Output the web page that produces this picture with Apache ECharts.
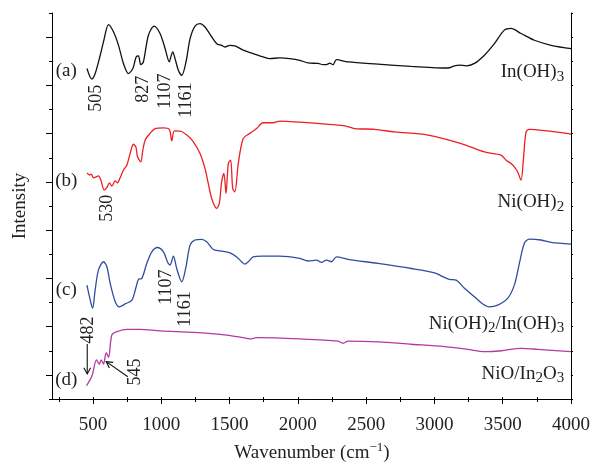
<!DOCTYPE html>
<html><head><meta charset="utf-8">
<script src="https://cdn.jsdelivr.net/npm/echarts@6/dist/echarts.min.js"></script>
<style>html,body{margin:0;padding:0;background:#fff}#c{width:593px;height:465px}</style>
</head><body><div id="c"></div>
<script>
// (a) In(OH)3
const waveA = [456,492,516,553,577,614,650,687,723,760,792,816,833,850,869,906,948,991,1028,1059,1070,1084,1101,1125,1150,1181,1211,1247,1284,1320,1369,1406,1442,1466,1503,1539,1600,1673,1746,1795,1868,1941,2014,2075,2148,2185,2209,2234,2258,2283,2367,2586,2831,3098,3147,3183,3232,3293,3366,3439,3512,3561,3634,3732,3854,3987,4000];
const intA = [13.70,13.26,13.49,14.25,14.80,15.52,15.22,14.66,13.91,13.49,13.70,14.18,14.22,13.86,13.97,15.08,15.46,15.15,14.53,13.97,14.18,14.39,14.11,13.63,13.42,13.97,14.94,15.46,15.56,15.42,15.01,14.73,14.66,14.59,14.66,14.64,14.46,14.32,14.18,14.11,14.14,14.11,14.04,13.93,13.91,13.86,13.86,13.92,13.86,14.07,13.97,13.88,13.79,13.72,13.81,13.84,13.81,13.91,14.25,14.73,15.29,15.36,15.15,14.87,14.66,14.53,14.52];
// (b) Ni(OH)2
const waveB = [456,475,487,504,524,540,558,582,602,621,638,663,679,699,723,748,772,796,814,826,850,865,882,918,955,1016,1059,1077,1096,1138,1187,1235,1284,1320,1344,1369,1406,1425,1442,1459,1474,1491,1508,1523,1539,1564,1600,1649,1698,1746,1819,1868,1978,2343,2416,2562,2708,2952,3196,3366,3488,3525,3561,3585,3609,3634,3651,3671,3695,3829,4000];
const intB = [9.37,9.28,9.32,9.17,9.21,9.25,9.07,8.66,8.77,8.96,8.82,9.04,8.96,9.17,9.49,9.69,10.18,10.56,10.45,10.04,9.83,10.31,10.73,11.01,11.21,11.24,11.17,10.70,11.11,11.10,10.94,10.66,10.18,9.56,8.94,8.31,7.90,8.11,9.00,9.35,8.52,9.76,9.90,8.73,8.59,9.76,10.80,11.01,11.21,11.45,11.45,11.52,11.49,11.32,11.21,11.18,11.07,10.94,10.59,10.24,10.11,9.90,9.76,9.62,9.42,9.07,9.90,11.07,11.18,11.11,10.98];
// (c) Ni(OH)2/In(OH)3
const waveC = [456,480,497,516,540,577,602,626,663,692,736,785,816,833,858,894,931,972,1016,1045,1064,1089,1113,1150,1181,1211,1247,1296,1333,1381,1430,1503,1552,1588,1612,1637,1673,1735,1868,2014,2075,2136,2173,2209,2246,2283,2367,2586,2831,3001,3061,3110,3159,3220,3293,3354,3403,3463,3536,3585,3622,3658,3695,3780,3854,4000];
const intC = [4.72,4.10,3.76,4.52,5.34,5.69,5.48,4.79,4.03,3.82,3.94,4.10,4.65,4.96,5.00,5.62,6.10,6.28,6.10,5.69,5.55,5.92,5.41,4.86,5.48,6.38,6.59,6.62,6.52,6.20,6.14,6.06,5.89,5.69,5.59,5.69,5.89,5.92,5.92,5.83,5.72,5.76,5.66,5.76,5.69,5.89,5.79,5.62,5.41,5.23,5.07,4.96,4.93,4.59,4.24,3.94,3.82,3.89,4.17,4.72,5.62,6.45,6.63,6.59,6.49,6.42];
// (d) NiO/In2O3
const waveD = [453,492,526,546,560,577,597,614,638,675,748,845,991,1235,1479,1600,1649,1698,2014,2294,2331,2367,2586,2831,3074,3244,3366,3488,3634,3756,4000];
const intD = [0.55,0.95,1.62,1.44,1.62,1.45,1.92,1.73,2.65,2.79,2.89,2.89,2.82,2.76,2.65,2.54,2.49,2.54,2.49,2.40,2.31,2.40,2.37,2.27,2.17,2.06,1.96,2.00,2.10,2.06,1.96];

const xMajorTicks = [500,1000,1500,2000,2500,3000,3500,4000];
const xMinorTicks = [250,750,1250,1750,2250,2750,3250,3750];
const xTopTicks = [250,500,750,1000,1250,1500,1750,2000,2250,2500,2750,3000,3250,3500,3750,4000];
const yMajorTicks = [1,3,5,7,9,11,13,15];
const yMinorTicks = [0,2,4,6,8,10,12,14,16];
const yRightTicks = [0,1,2,3,4,5,6,7,8,9,10,11,12,13,14,15,16];

const seriesNames = ['In(OH){s|3}','Ni(OH){s|2}','Ni(OH){s|2}/In(OH){s|3}','NiO/In{s|2}O{s|3}'];
const seriesNamePos = [[3950,13.63],[3950,8.24],[3950,3.19],[3950,1.12]];
const curveTags = ['(a)','(b)','(c)','(d)'];
const curveTagPos = [[305,13.59],[305,9.03],[305,4.52],[305,0.79]];
const peakTexts = ['505','827','1107','1161','530','1107','1161','482','545'];
const peakPos = [[524,12.47],[871,12.84],[1028,12.76],[1185,12.39],[608,7.91],[1037,4.64],[1179,3.73],[462,2.86],[810,1.12]];
const arrowFrom = [[458,2.28],[755,0.92]];
const arrowTo = [[458,1.04],[597,1.55]];

const colors = ['#111111','#ec1f24','#2f4d9e','#b23aa0'];
const FONT = "'Liberation Serif','DejaVu Serif',serif";
const TXT = '#222';

const zip = (a,b) => a.map((x,i)=>[x,b[i]]);
const chart = echarts.init(document.getElementById('c'), null, {renderer:'canvas'});

const baseAxis = {type:'value', min:200, max:4000, splitLine:{show:false}};
const baseY = {type:'value', min:0, max:16, splitLine:{show:false}, axisLabel:{show:false}};
const lineC = {color:'#000', width:1};

chart.setOption({
  animation:false,
  backgroundColor:'#fff',
  grid:{left:52, right:21, top:13, bottom:66, containLabel:false},
  xAxis:[
    Object.assign({}, baseAxis, {position:'bottom', axisLine:{show:true, lineStyle:lineC},
      axisTick:{show:true, inside:false, length:5, customValues:xMajorTicks, lineStyle:lineC},
      axisLabel:{show:true, customValues:xMajorTicks, formatter:(v)=>String(v), fontFamily:FONT, fontSize:19, color:TXT, margin:17}}),
    Object.assign({}, baseAxis, {position:'bottom', axisLine:{show:false},
      axisTick:{show:true, inside:false, length:3, customValues:xMinorTicks, lineStyle:lineC},
      axisLabel:{show:false}}),
    Object.assign({}, baseAxis, {position:'top', axisLine:{show:true, lineStyle:lineC},
      axisTick:{show:true, inside:false, length:2, customValues:xTopTicks, lineStyle:lineC},
      axisLabel:{show:false}})
  ],
  yAxis:[
    Object.assign({}, baseY, {position:'left', axisLine:{show:true, lineStyle:lineC},
      axisTick:{show:true, inside:false, length:3, customValues:yMinorTicks, lineStyle:lineC}}),
    Object.assign({}, baseY, {position:'left', axisLine:{show:false},
      axisTick:{show:true, inside:false, length:6, customValues:yMajorTicks, lineStyle:lineC}}),
    Object.assign({}, baseY, {position:'right', axisLine:{show:true, lineStyle:lineC},
      axisTick:{show:true, inside:false, length:2, customValues:yRightTicks, lineStyle:lineC}})
  ],
  series:[
    {type:'line', data:zip(waveA,intA), color:colors[0]},
    {type:'line', data:zip(waveB,intB), color:colors[1]},
    {type:'line', data:zip(waveC,intC), color:colors[2]},
    {type:'line', data:zip(waveD,intD), color:colors[3]}
  ].map(s=>Object.assign(s,{xAxisIndex:0,yAxisIndex:0,showSymbol:false,smooth:0.3,silent:true,
      lineStyle:{width:1.3,color:s.color}}))
});

const P = (p) => chart.convertToPixel({xAxisIndex:0, yAxisIndex:0}, p);
const g = [];
const subRich = {s:{fontSize:15, lineHeight:15, verticalAlign:'bottom', fontFamily:FONT, fill:TXT}};
seriesNames.forEach((t,i)=>{
  const [x,y] = P(seriesNamePos[i]);
  g.push({type:'text', x:x, y:y+2, silent:true, style:{text:t, fill:TXT, font:'19px '+FONT, lineHeight:24,
    align:'right', verticalAlign:'middle', rich:subRich}});
});
curveTags.forEach((t,i)=>{
  const [x,y] = P(curveTagPos[i]);
  g.push({type:'text', x:x, y:y, silent:true, style:{text:t, fill:TXT, font:'19px '+FONT, align:'center', verticalAlign:'middle'}});
});
peakTexts.forEach((t,i)=>{
  const [x,y] = P(peakPos[i]);
  g.push({type:'text', x:x, y:y, rotation:Math.PI/2, silent:true, style:{text:t, fill:TXT, font:'18px '+FONT, align:'center', verticalAlign:'middle'}});
});
arrowFrom.forEach((f,i)=>{
  const a = P(f), b = P(arrowTo[i]);
  const ang = Math.atan2(b[1]-a[1], b[0]-a[0]);
  const L = 7, sp = 0.5;
  const h1 = [b[0]-L*Math.cos(ang-sp), b[1]-L*Math.sin(ang-sp)];
  const h2 = [b[0]-L*Math.cos(ang+sp), b[1]-L*Math.sin(ang+sp)];
  g.push({type:'polyline', silent:true, shape:{points:[a,b]}, style:{stroke:'#111', lineWidth:1.1, fill:null}});
  g.push({type:'polyline', silent:true, shape:{points:[h1,b,h2]}, style:{stroke:'#111', lineWidth:1.1, fill:null}});
});
g.push({type:'text', x:20, y:206, rotation:Math.PI/2, silent:true, style:{text:'Intensity', fill:TXT, font:'19px '+FONT, align:'center', verticalAlign:'middle'}});
g.push({type:'text', x:312, y:453, silent:true, style:{text:'Wavenumber (cm{p|−1})', fill:TXT, font:'19px '+FONT, lineHeight:24,
  align:'center', verticalAlign:'middle', rich:{p:{fontSize:13, lineHeight:13, verticalAlign:'top', fontFamily:FONT, fill:TXT}}}});
chart.setOption({graphic:{elements:g}});
</script>
</body></html>
